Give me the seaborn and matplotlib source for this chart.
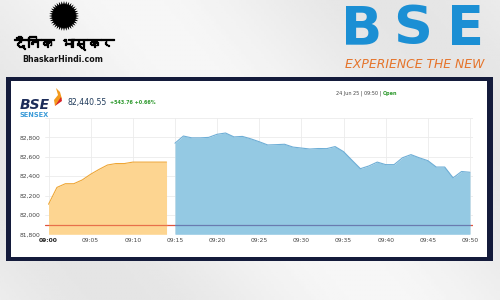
import numpy as np
import matplotlib
matplotlib.use("Agg")
import matplotlib.pyplot as plt
from matplotlib import font_manager
from matplotlib.patches import Rectangle, Circle, Polygon
import matplotlib.patheffects as pe
import seaborn as sns

# ---------------- data ----------------
pre_minutes = list(range(0, 15))
pre_values = [82110, 82284, 82322, 82322, 82361, 82420, 82470, 82515, 82530,
              82530, 82545, 82545, 82545, 82545, 82545]
mkt_minutes = list(range(15, 51))
mkt_values = [82740, 82814, 82795, 82795, 82800, 82832, 82845, 82805, 82810,
              82785, 82755, 82722, 82725, 82729, 82700, 82690, 82680, 82685,
              82684, 82705, 82653, 82564, 82477, 82505, 82545, 82519, 82519,
              82590, 82622, 82589, 82560, 82494, 82494, 82382, 82448, 82440]
prev_close = 81896.79
tick_minutes = [0, 5, 10, 15, 20, 25, 30, 35, 40, 45, 50]
tick_labels = ["09:00", "09:05", "09:10", "09:15", "09:20", "09:25", "09:30",
               "09:35", "09:40", "09:45", "09:50"]
y_ticks = [81800, 82000, 82200, 82400, 82600, 82800]
last_value = "82,440.55"
change_text = "+543.76 +0.66%"
date_text = "24 Jun 25 | 09:50 | "
status_text = "Open"

sns.set_theme(style="white")
plt.rcParams['font.family'] = ['DejaVu Sans']

# find a font with Devanagari glyphs
deva_family = None
for f in font_manager.fontManager.ttflist:
    try:
        ft = font_manager.get_font(f.fname)
        if ord('द') in ft.get_charmap():
            deva_family = f.name
            break
    except Exception:
        pass
hindi_family = [deva_family, 'DejaVu Sans'] if deva_family else ['DejaVu Sans']

fig = plt.figure(figsize=(5, 3), dpi=100)
W, H = 500, 300

bg = fig.add_axes([0, 0, 1, 1], zorder=0)
bg.set_xlim(0, W)
bg.set_ylim(H, 0)
bg.axis('off')


def fit_width(txt, target_px):
    fig.canvas.draw()
    w = txt.get_window_extent().width
    txt.set_fontsize(txt.get_fontsize() * target_px / w)


# ---------------- background & frame ----------------
gx, gy = np.meshgrid(np.linspace(0, 1, 200), np.linspace(0, 1, 120))
grad = 0.5 + 0.5 * np.sin((gx * 3 - gy * 1.5) * 2.0)
bg.imshow(grad, extent=(0, W, H, 0), cmap='gray', vmin=-12.5, vmax=1.45,
          aspect='auto', zorder=0)
bg.add_patch(Rectangle((6, 77), 487, 184, facecolor='#141b3b', edgecolor='none', zorder=1))
bg.add_patch(Rectangle((11, 81), 476, 176, facecolor='white', edgecolor='none', zorder=2))

# Dainik Bhaskar logo
ang = np.linspace(0, 2 * np.pi, 73)[:-1]
rad = np.where(np.arange(72) % 2 == 0, 15, 11.5)
bg.add_patch(Polygon(np.c_[64 + rad * np.cos(ang), 16 + rad * np.sin(ang)],
                     closed=True, facecolor='black', edgecolor='none', zorder=3))
bg.add_patch(Circle((64, 16), 11.5, facecolor='black', edgecolor='none', zorder=3))
ht = bg.text(64, 43, "दैनिक भास्कर", family=hindi_family, fontsize=10, fontweight='bold',
             color='black', ha='center', va='center', zorder=3,
             path_effects=[pe.withStroke(linewidth=0.9, foreground='black')])
fit_width(ht, 100)
bg.text(63, 59, "BhaskarHindi.com", fontsize=6.3, fontweight='bold',
        fontstretch='condensed', color='#111111', ha='center', va='center', zorder=3)

# BSE logo
for ch, xc in zip("BSE", [362, 413, 466]):
    bg.text(xc, 29, ch, fontsize=39, fontweight='bold', color='#1b8fd4',
            ha='center', va='center', zorder=3)
et = bg.text(415, 64, "EXPERIENCE THE NEW", fontsize=8, style='italic',
             color='#e5742b', ha='center', va='center', zorder=3)
fit_width(et, 140)

# card header
bg.text(20, 105, "BSE", fontsize=10, fontweight='bold', style='italic',
        color='#1d2d5a', ha='left', va='center', zorder=3)
bg.text(20, 115, "SENSEX", fontsize=4.8, fontweight='bold', color='#3b9bd8',
        ha='left', va='center', zorder=3)
bg.add_patch(Polygon([[55, 106], [62, 99], [60, 92], [56, 88], [58, 95], [54, 100]],
                     closed=True, facecolor='#f39a1e', edgecolor='none', zorder=3))
bg.add_patch(Polygon([[55, 106], [62, 101], [61, 97], [57, 103]],
                     closed=True, facecolor='#d8232a', edgecolor='none', zorder=3))
bg.text(68, 102, last_value, fontsize=5.6, color='#1f3a5a', ha='left',
        va='center', zorder=3)
bg.text(110, 102.5, change_text, fontsize=3.5, fontweight='bold', color='#2f9a2f',
        ha='left', va='center', zorder=3)
t = bg.text(336, 93, date_text, fontsize=3.5, color='#444444', ha='left',
            va='center', zorder=3)
fig.canvas.draw()
bb = t.get_window_extent()
x_end = bb.x1 / fig.dpi / 5 * W
bg.text(x_end, 93, status_text, fontsize=3.5, fontweight='bold', color='#2f9a2f',
        ha='left', va='center', zorder=3)

# ---------------- chart ----------------
left, right, top, bottom = 45, 473, 118, 234.3
ax = fig.add_axes([left / W, (H - bottom) / H, (right - left) / W, (bottom - top) / H],
                  zorder=2)
ax.set_facecolor('white')
ax.set_xlim(-0.42, 50.36)
ax.set_ylim(81800, 83000)

for m in tick_minutes:
    ax.axvline(m, color='#ebebeb', lw=0.6, zorder=0)
for v in y_ticks + [83000]:
    ax.axhline(v, color='#ebebeb', lw=0.6, zorder=0)

ax.axhline(prev_close, color='#e0533d', lw=0.9, zorder=1)

ax.fill_between(pre_minutes, pre_values, 81800, color='#fdd591', lw=0, zorder=2)
ax.fill_between(mkt_minutes, mkt_values, 81800, color='#94c9e3', lw=0, zorder=2)
sns.lineplot(x=pre_minutes, y=pre_values, ax=ax, color='#efa634', lw=0.8, zorder=3)
sns.lineplot(x=mkt_minutes, y=mkt_values, ax=ax, color='#6eaed6', lw=0.8, zorder=3)
ax.plot([pre_minutes[0], pre_minutes[-1]], [prev_close, prev_close],
        color='#e8704a', lw=0.9, zorder=3)
ax.plot([mkt_minutes[0], mkt_minutes[-1]], [prev_close, prev_close],
        color='#6a7bb0', lw=0.9, zorder=3)

ax.set_xticks(tick_minutes)
ax.set_xticklabels(tick_labels)
ax.set_yticks(y_ticks)
ax.set_yticklabels([f"{v:,}" for v in y_ticks])
ax.tick_params(axis='both', length=0, labelsize=4.3, labelcolor='#444444', pad=3)
ax.get_xticklabels()[0].set_fontweight('bold')
ax.get_xticklabels()[0].set_color('#222222')
for s in ax.spines.values():
    s.set_visible(False)
ax.set_xlabel("")
ax.set_ylabel("")

fig.savefig("out.png", dpi=100)
